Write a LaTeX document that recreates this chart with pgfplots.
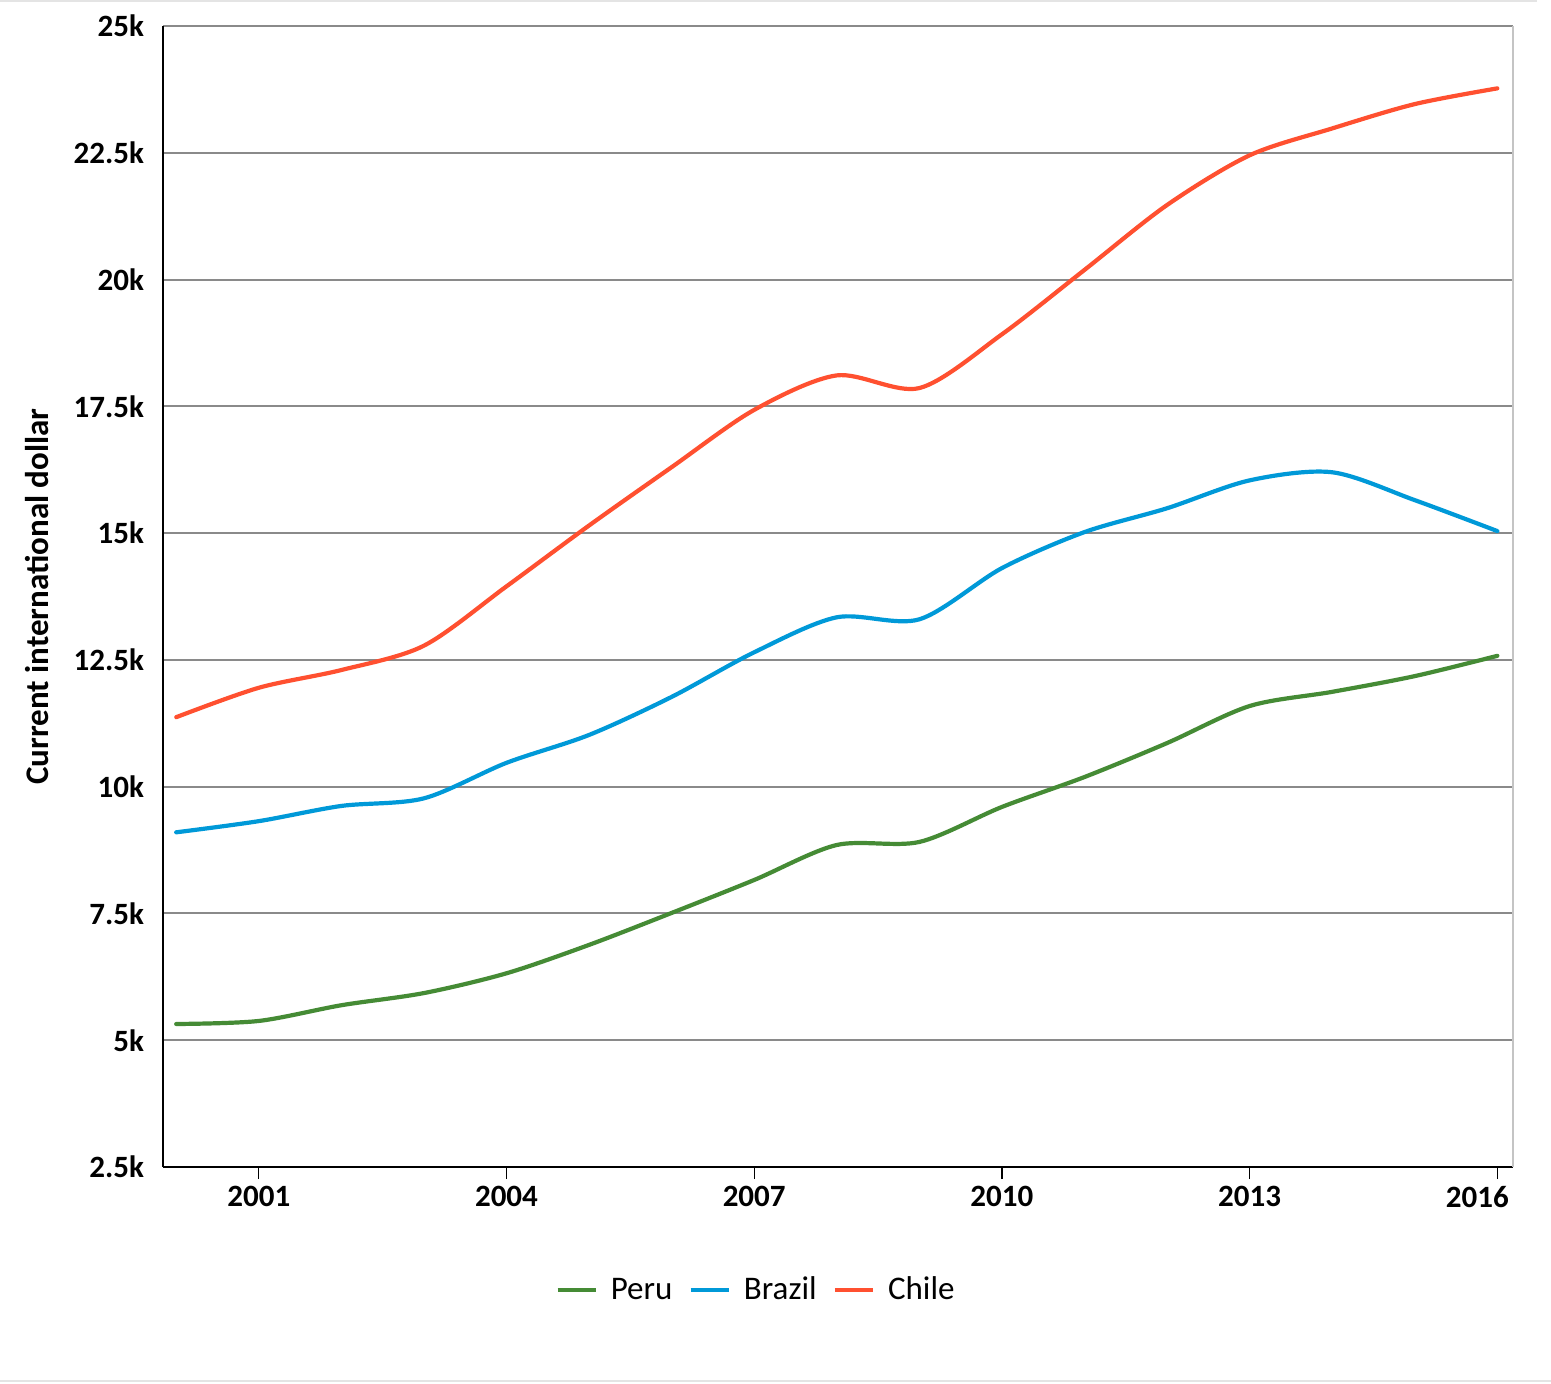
\documentclass[border=0pt]{standalone}
\usepackage{pgfplots}
\pgfplotsset{compat=1.18}
\usepackage{fontspec}
\setmainfont{Carlito}
\definecolor{peru}{HTML}{458B35}
\definecolor{brazil}{HTML}{0099D8}
\definecolor{chile}{HTML}{FF5030}
\definecolor{gridc}{HTML}{8A8A8A}
\definecolor{rborder}{HTML}{C4C4C4}
\definecolor{frame}{HTML}{E4E4E4}
\begin{document}
\begin{tikzpicture}
\begin{axis}[
  at={(0,0)}, anchor=south west,
  scale only axis, width=675pt, height=570.5pt,
  xmin=1999.84, xmax=2016.19, ymin=2500, ymax=25000,
  clip=false,
  axis x line*=bottom, axis y line*=left,
  axis line style={black, line width=1pt},
  xtick={2001,2004,2007,2010,2013,2016},
  xticklabels={2001,2004,2007,2010,2013,{\kern-20pt 2016}},
  ytick={2500,5000,7500,10000,12500,15000,17500,20000,22500,25000},
  yticklabels={2.5k,5k,7.5k,10k,12.5k,15k,17.5k,20k,22.5k,25k},
  /pgf/number format/assume math mode=true,
  ymajorgrids, major grid style={gridc, line width=1pt},
  tick align=outside, major tick length=6pt,
  xtick style={black, line width=0.6pt},
  ytick style={draw=none},
  ticklabel style={font=\fontsize{15.5}{18}\selectfont\bfseries},
  every axis y label/.style={at={(axis description cs:-0.0933,0.5)}, rotate=90, anchor=center},
  ylabel={Current international dollar},
  ylabel style={font=\fontsize{16.5}{19}\selectfont\bfseries},
  legend style={at={(axis description cs:0.44,-0.1078)}, anchor=center, draw=none, fill=none,
    font=\fontsize{16.5}{20}\selectfont, legend columns=3,
    /tikz/every odd column/.append style={column sep=4.5pt},
    /tikz/every even column/.append style={column sep=6pt}},
  legend image code/.code={\draw[#1, line width=2.2pt, line cap=butt] (0pt,0pt) -- (19pt,0pt);},
  every axis plot/.append style={line width=2.1pt, line cap=round, smooth, tension=0.5},
]
\addplot[peru] coordinates {
(2000,5320) (2001,5380) (2002,5690) (2003,5930) (2004,6320) (2005,6880) (2006,7510) (2007,8160) (2008,8850) (2009,8910) (2010,9600) (2011,10190) (2012,10860) (2013,11590) (2014,11870) (2015,12180) (2016,12580)};
\addlegendentry{Peru}
\addplot[brazil] coordinates {
(2000,9100) (2001,9320) (2002,9620) (2003,9770) (2004,10470) (2005,11020) (2006,11770) (2007,12650) (2008,13340) (2009,13300) (2010,14310) (2011,15020) (2012,15490) (2013,16040) (2014,16200) (2015,15650) (2016,15040)};
\addlegendentry{Brazil}
\addplot[chile] coordinates {
(2000,11370) (2001,11950) (2002,12300) (2003,12780) (2004,13950) (2005,15150) (2006,16300) (2007,17430) (2008,18110) (2009,17860) (2010,18920) (2011,20190) (2012,21470) (2013,22450) (2014,22980) (2015,23460) (2016,23770)};
\addlegendentry{Chile}
\draw[rborder, line width=1pt] (rel axis cs:1,0) -- (rel axis cs:1,1);
\end{axis}
\draw[frame, line width=1pt] (-81.5pt,583pt) -- (687pt,583pt);
\draw[frame, line width=1pt] (-81.5pt,-107pt) -- (694pt,-107pt);
\pgfresetboundingbox
\path[use as bounding box] (-81.5pt,-108pt) rectangle (694pt,583.5pt);
\end{tikzpicture}
\end{document}
